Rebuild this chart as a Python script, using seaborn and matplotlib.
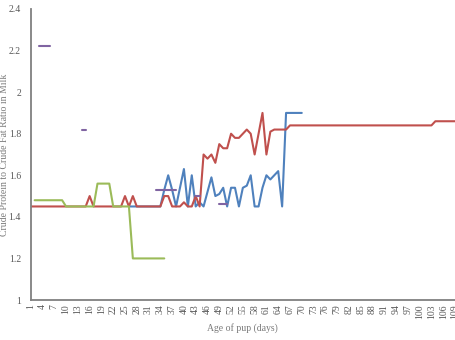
import matplotlib
matplotlib.use("Agg")
import matplotlib.pyplot as plt
import seaborn as sns
import pandas as pd

# category axis: age of pup in days
days = list(range(1, 110))

# red series (days 1-109)
red_vals = [1.45, 1.45, 1.45, 1.45, 1.45, 1.45, 1.45, 1.45, 1.45, 1.45,
            1.45, 1.45, 1.45, 1.45, 1.45, 1.50, 1.45, 1.45, 1.45, 1.45,
            1.45, 1.45, 1.45, 1.45, 1.50, 1.45, 1.50, 1.45, 1.45, 1.45,
            1.45, 1.45, 1.45, 1.45, 1.50, 1.50, 1.45, 1.45, 1.45, 1.47,
            1.45, 1.45, 1.50, 1.45, 1.70, 1.68, 1.70, 1.66, 1.75, 1.73,
            1.73, 1.80, 1.78, 1.78, 1.80, 1.82, 1.80, 1.70, 1.80, 1.90,
            1.70, 1.81, 1.82, 1.82, 1.82, 1.82, 1.84, 1.84, 1.84, 1.84,
            1.84, 1.84, 1.84, 1.84, 1.84, 1.84, 1.84, 1.84, 1.84, 1.84,
            1.84, 1.84, 1.84, 1.84, 1.84, 1.84, 1.84, 1.84, 1.84, 1.84,
            1.84, 1.84, 1.84, 1.84, 1.84, 1.84, 1.84, 1.84, 1.84, 1.84,
            1.84, 1.84, 1.84, 1.86, 1.86, 1.86, 1.86, 1.86, 1.86]

# blue series (days 26-70)
blue_days = list(range(26, 71))
blue_vals = [1.45, 1.45, 1.45, 1.45, 1.45, 1.45, 1.45, 1.45, 1.45, 1.53,
             1.60, 1.53, 1.45, 1.54, 1.63, 1.45, 1.60, 1.45, 1.47, 1.45,
             1.52, 1.59, 1.50, 1.51, 1.54, 1.45, 1.54, 1.54, 1.45, 1.54,
             1.55, 1.60, 1.45, 1.45, 1.54, 1.60, 1.58, 1.60, 1.62, 1.45,
             1.90, 1.90, 1.90, 1.90, 1.90]

# green series (days 2-35)
green_days = list(range(2, 36))
green_vals = [1.48, 1.48, 1.48, 1.48, 1.48, 1.48, 1.48, 1.48, 1.45, 1.45,
              1.45, 1.45, 1.45, 1.45, 1.45, 1.45, 1.56, 1.56, 1.56, 1.56,
              1.45, 1.45, 1.45, 1.45, 1.45, 1.20, 1.20, 1.20, 1.20, 1.20,
              1.20, 1.20, 1.20, 1.20]

# purple series: short separate segments
purple_days = [3, 4, 5, 6, 14, 15, 33, 34, 35, 36, 37, 38, 43, 44, 49, 50, 51]
purple_vals = [2.22, 2.22, 2.22, 2.22, 1.82, 1.82, 1.53, 1.53, 1.53, 1.53,
               1.53, 1.53, 1.50, 1.50, 1.46, 1.46, 1.46]
purple_seg = [1, 1, 1, 1, 2, 2, 3, 3, 3, 3, 3, 3, 4, 4, 5, 5, 5]

red_df = pd.DataFrame({"day": days, "value": red_vals})
blue_df = pd.DataFrame({"day": blue_days, "value": blue_vals})
green_df = pd.DataFrame({"day": green_days, "value": green_vals})
purple_df = pd.DataFrame({"day": purple_days, "value": purple_vals, "seg": purple_seg})

sns.set_style("white")
plt.rcParams["font.family"] = ["Liberation Serif", "DejaVu Serif"]

fig = plt.figure(figsize=(4.55, 3.4), dpi=100)
ax = fig.add_axes([30.7 / 455, 40 / 340, (455 - 30.7) / 455, 291 / 340])

lw = 1.5
sns.lineplot(data=blue_df, x="day", y="value", color="#4F81BD", lw=lw, ax=ax)
sns.lineplot(data=red_df, x="day", y="value", color="#C0504D", lw=lw, ax=ax)
sns.lineplot(data=green_df, x="day", y="value", color="#9BBB59", lw=lw, ax=ax)
sns.lineplot(data=purple_df, x="day", y="value", units="seg", estimator=None,
             color="#8064A2", lw=lw, ax=ax)

ax.set_xlim(1, 109)
ax.set_ylim(1, 2.4)
ax.set_xticks(days[::3])
ax.set_xticklabels([str(d) for d in days[::3]], rotation=90)
yt = [1, 1.2, 1.4, 1.6, 1.8, 2, 2.2, 2.4]
ax.set_yticks(yt)
ax.set_yticklabels(["1", "1.2", "1.4", "1.6", "1.8", "2", "2.2", "2.4"])
ax.tick_params(axis="both", length=0, labelsize=7, colors="#595959")
ax.tick_params(axis="x", pad=3)
ax.tick_params(axis="y", pad=7)

for s in ["top", "right"]:
    ax.spines[s].set_visible(False)
for s in ["left", "bottom"]:
    ax.spines[s].set_color("#808080")
    ax.spines[s].set_linewidth(1.3)

ax.set_xlabel("Age of pup (days)", fontsize=7, color="#7a7a7a")
ax.set_ylabel("Crude Protein to Crude Fat Ratio in Milk", fontsize=7,
              color="#7a7a7a")
ax.xaxis.set_label_coords(0.5, -0.078)
ax.yaxis.set_label_coords(-0.052, 0.5)

fig.savefig("out.png", dpi=100)
